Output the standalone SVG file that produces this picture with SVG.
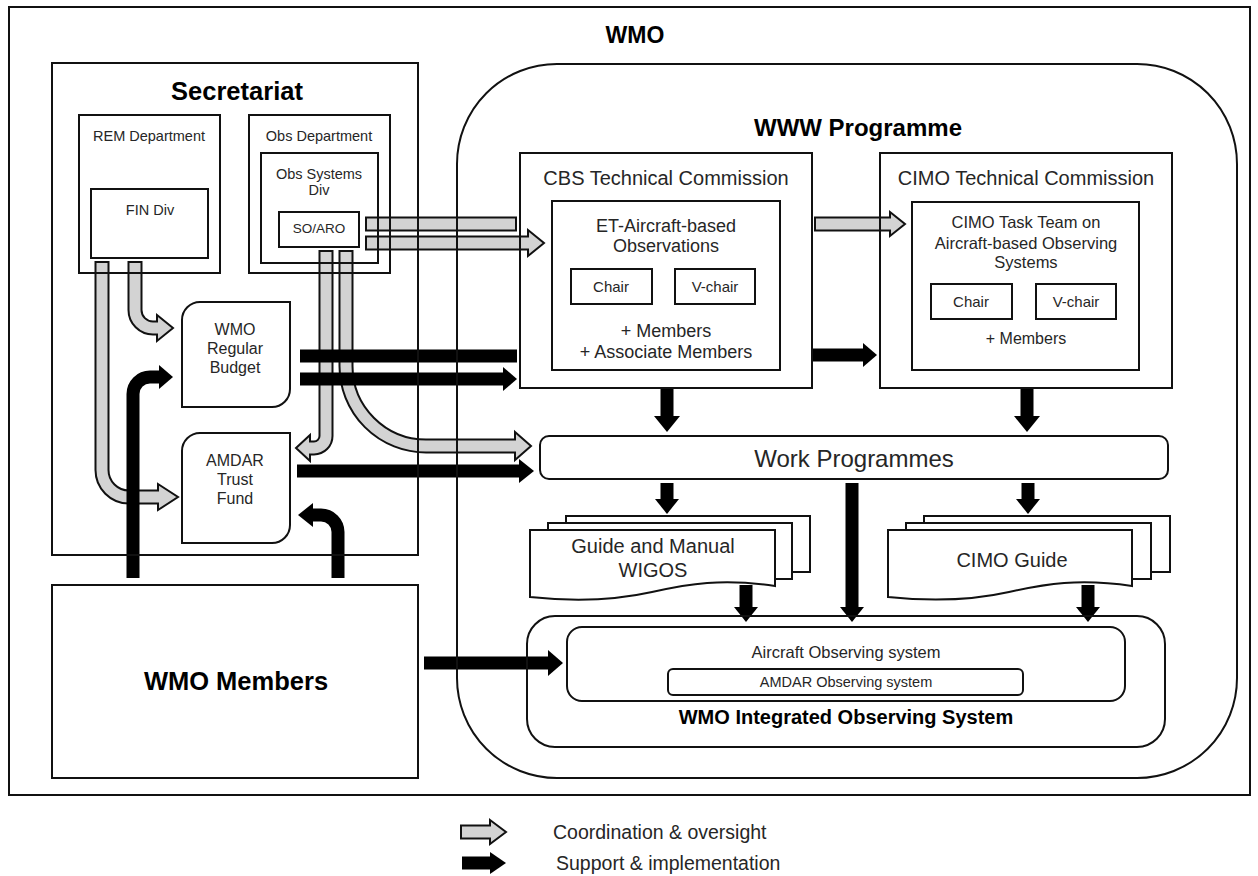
<svg xmlns="http://www.w3.org/2000/svg" width="1258" height="876" viewBox="0 0 1258 876">
<style>
.box{fill:none;stroke:#111;stroke-width:2}
.doc{fill:#fff;stroke:#111;stroke-width:2}
.t{font-family:"Liberation Sans",Arial,sans-serif;fill:#262626;text-anchor:middle}
.b{font-weight:bold;fill:#000}
.go{fill:none;stroke:#111;stroke-width:15}
.gi{fill:none;stroke:#d3d3d3;stroke-width:11}
.gh{fill:#d3d3d3;stroke:#111;stroke-width:2}
.bk{fill:none;stroke:#000;stroke-width:13}
.bh{fill:#000}
</style>
<rect width="1258" height="876" fill="#fff"/>
<g id="wmo">
<rect class="box" x="9" y="7" width="1241" height="788"/>
<text class="t b" x="635" y="43" font-size="23">WMO</text>
</g>
<g id="connectors">
<path class="go" d="M102,261 V470 A27,27 0 0 0 129,497 H158"/>
<polygon class="gh" points="158,484 178,497 158,510"/>
<path class="gi" d="M102,263 V470 A27,27 0 0 0 129,497 H161"/>
<path class="go" d="M135,261 V310 A18,18 0 0 0 153,328 H157"/>
<polygon class="gh" points="157,315 173,328 157,341"/>
<path class="gi" d="M135,263 V310 A18,18 0 0 0 153,328 H160"/>
<path class="go" d="M326,250 V436 A12,12 0 0 1 314,448 H310"/>
<polygon class="gh" points="310,435 296,448 310,461"/>
<path class="gi" d="M326,252 V436 A12,12 0 0 1 314,448 H307"/>
<path class="go" d="M346,250 V366 A80,80 0 0 0 426,446 H515"/>
<polygon class="gh" points="515,432 531,446 515,460"/>
<path class="gi" d="M346,252 V366 A80,80 0 0 0 426,446 H518"/>
<path class="go" d="M365,224 H517"/>
<path class="gi" d="M367,224 H515"/>
<path class="go" d="M365,243 H528"/>
<polygon class="gh" points="528,230 544,243 528,256"/>
<path class="gi" d="M367,243 H531"/>
<path class="go" d="M814,224 H890"/>
<polygon class="gh" points="890,212 905,224 890,236"/>
<path class="gi" d="M816,224 H893"/>
<path class="bk" d="M133,578 V394 A17,17 0 0 1 150,377 H159"/>
<polygon class="bh" points="159,365 173,377 159,389"/>
<path class="bk" d="M338,578 V532 A17,17 0 0 0 321,515 H313"/>
<polygon class="bh" points="313,503 298,515 313,527"/>
<path class="bk" d="M300,356 H517"/>
<path class="bk" d="M300,379 H504"/>
<polygon class="bh" points="503,367 517,379 503,391"/>
<path class="bk" d="M297,471 H520"/>
<polygon class="bh" points="519,459 534,471 519,483"/>
<path class="bk" d="M813,355 H864"/>
<polygon class="bh" points="863,343 877,355 863,367"/>
<path class="bk" d="M667,389 V417"/>
<polygon class="bh" points="654,416 667,432 680,416"/>
<path class="bk" d="M1027,389 V417"/>
<polygon class="bh" points="1014,416 1027,432 1040,416"/>
<path class="bk" d="M667,483 V500"/>
<polygon class="bh" points="655,499 667,514 679,499"/>
<path class="bk" d="M1028,483 V500"/>
<polygon class="bh" points="1016,499 1028,514 1040,499"/>
<path class="bk" d="M852,483 V608"/>
<polygon class="bh" points="840,607 852,622 864,607"/>
<path class="bk" d="M746,585 V608"/>
<polygon class="bh" points="734,607 746,622 758,607"/>
<path class="bk" d="M1088,585 V608"/>
<polygon class="bh" points="1076,607 1088,622 1100,607"/>
<path class="bk" d="M424,663 H549"/>
<polygon class="bh" points="548,650 563,663 548,676"/>
</g>
<g id="secretariat">
<rect class="box" x="52" y="63" width="366" height="492"/>
<text class="t b" x="237" y="100" font-size="25.5">Secretariat</text>
</g>
<g id="rem-department">
<rect class="box" x="79" y="115" width="141" height="158"/>
<text class="t" x="149" y="141" font-size="14.5">REM Department</text>
</g>
<g id="fin-div">
<rect class="box" x="91" y="189" width="117" height="69"/>
<text class="t" x="150" y="215" font-size="14.5">FIN Div</text>
</g>
<g id="obs-department">
<rect class="box" x="249" y="115" width="141" height="158"/>
<text class="t" x="319" y="141" font-size="14.5">Obs Department</text>
</g>
<g id="obs-systems-div">
<rect class="box" x="261" y="153" width="117" height="110"/>
<text class="t" x="319" y="179" font-size="14.5">Obs Systems</text>
<text class="t" x="319" y="195" font-size="14.5">Div</text>
</g>
<g id="so-aro">
<rect class="box" x="279" y="212" width="80" height="35"/>
<text class="t" x="319" y="233" font-size="13.5">SO/ARO</text>
</g>
<g id="regular-budget">
<path class="box" d="M200,302 H290 V389 A18,18 0 0 1 272,407 H182 V320 A18,18 0 0 1 200,302 Z"/>
<text class="t" x="235" y="335" font-size="16">WMO</text>
<text class="t" x="235" y="354" font-size="16">Regular</text>
<text class="t" x="235" y="373" font-size="16">Budget</text>
</g>
<g id="amdar-trust-fund">
<path class="box" d="M200,433 H290 V525 A18,18 0 0 1 272,543 H182 V451 A18,18 0 0 1 200,433 Z"/>
<text class="t" x="235" y="466" font-size="16">AMDAR</text>
<text class="t" x="235" y="485" font-size="16">Trust</text>
<text class="t" x="235" y="504" font-size="16">Fund</text>
</g>
<g id="wmo-members">
<rect class="box" x="52" y="585" width="366" height="193"/>
<text class="t b" x="236" y="690" font-size="25.5">WMO Members</text>
</g>
<g id="www-programme">
<rect class="box" x="457" y="64" width="780" height="714" rx="100" ry="100"/>
<text class="t b" x="858" y="136" font-size="24">WWW Programme</text>
</g>
<g id="cbs">
<rect class="box" x="520" y="153" width="292" height="235"/>
<text class="t" x="666" y="185" font-size="20">CBS Technical Commission</text>
<rect class="box" x="552" y="201" width="228" height="169"/>
<text class="t" x="666" y="232" font-size="18">ET-Aircraft-based</text>
<text class="t" x="666" y="252" font-size="18">Observations</text>
<rect class="box" x="571" y="269" width="81" height="35"/>
<text class="t" x="611" y="292" font-size="15">Chair</text>
<rect class="box" x="675" y="269" width="80" height="35"/>
<text class="t" x="715" y="292" font-size="15">V-chair</text>
<text class="t" x="666" y="337" font-size="18">+ Members</text>
<text class="t" x="666" y="358" font-size="18">+ Associate Members</text>
</g>
<g id="cimo">
<rect class="box" x="880" y="153" width="292" height="235"/>
<text class="t" x="1026" y="185" font-size="20">CIMO Technical Commission</text>
<rect class="box" x="912" y="202" width="227" height="168"/>
<text class="t" x="1026" y="228" font-size="16.5">CIMO Task Team on</text>
<text class="t" x="1026" y="249" font-size="16.5">Aircraft-based Observing</text>
<text class="t" x="1026" y="268" font-size="16.5">Systems</text>
<rect class="box" x="931" y="284" width="81" height="35"/>
<text class="t" x="971" y="307" font-size="15">Chair</text>
<rect class="box" x="1036" y="284" width="80" height="35"/>
<text class="t" x="1076" y="307" font-size="15">V-chair</text>
<text class="t" x="1026" y="344" font-size="16">+ Members</text>
</g>
<g id="work-programmes">
<rect class="box" x="540" y="436" width="628" height="43" rx="9"/>
<text class="t" x="854" y="467" font-size="24">Work Programmes</text>
</g>
<g id="guide-wigos">
<rect class="doc" x="566" y="516" width="244" height="56"/>
<rect class="doc" x="548" y="523" width="244" height="56"/>
<path class="doc" d="M530,530 H775 V586 C722,578 688,584 652,592 C612,601 568,601 530,597 Z"/>
<text class="t" x="653" y="553" font-size="20">Guide and Manual</text>
<text class="t" x="653" y="577" font-size="20">WIGOS</text>
</g>
<g id="cimo-guide">
<rect class="doc" x="924" y="516" width="246" height="56"/>
<rect class="doc" x="906" y="523" width="245" height="56"/>
<path class="doc" d="M888,530 H1132 V586 C1079,578 1045,584 1009,592 C969,601 926,601 888,597 Z"/>
<text class="t" x="1012" y="567" font-size="20">CIMO Guide</text>
</g>
<g id="wigos">
<rect class="box" x="527" y="616" width="638" height="131" rx="28"/>
<rect class="box" x="567" y="627" width="558" height="74" rx="15"/>
<text class="t" x="846" y="658" font-size="16.5">Aircraft Observing system</text>
<rect class="box" x="668" y="669" width="355" height="26" rx="5"/>
<text class="t" x="846" y="687" font-size="14.5">AMDAR Observing system</text>
<text class="t b" x="846" y="724" font-size="20">WMO Integrated Observing System</text>
</g>
<g id="legend">
<path class="go" d="M460,832 H490"/>
<polygon class="gh" points="490,820 506,832 490,844"/>
<path class="gi" d="M462,832 H493"/>
<path class="bk" d="M462,863 H491"/>
<polygon class="bh" points="490,852 506,863 490,874"/>
<text class="t" x="553" y="839" font-size="19.5" style="text-anchor:start">Coordination &amp; oversight</text>
<text class="t" x="556" y="870" font-size="19.5" style="text-anchor:start">Support &amp; implementation</text>
</g>
</svg>
